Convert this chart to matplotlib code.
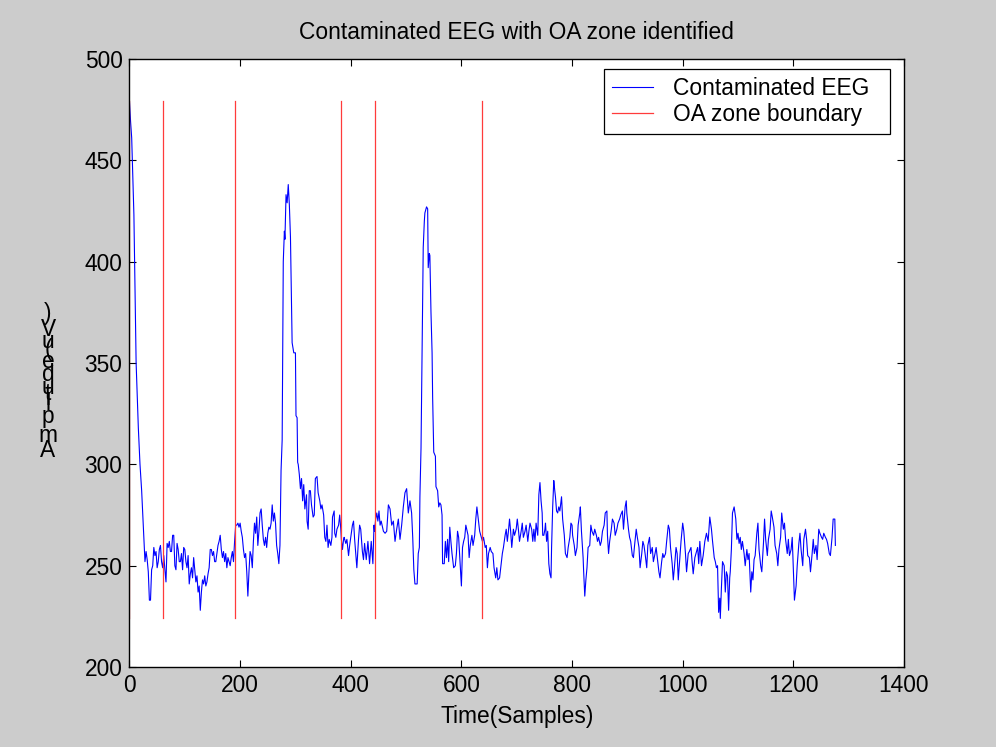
"""Contaminated EEG trace with the detected OA zone boundaries."""

import matplotlib
matplotlib.use("Agg")
import matplotlib.pyplot as plt
from matplotlib import font_manager, ft2font

# sample index and amplitude (uV)
samples = [
    0, 2, 4, 8, 12, 14, 16, 19, 22, 24, 26, 28, 30, 32, 34, 36, 38, 40, 42, 44,
    46, 48, 50, 52, 54, 56, 58, 60, 62, 64, 66, 68, 70, 72, 74, 76, 78, 80, 82, 84,
    86, 88, 90, 92, 94, 96, 98, 100, 102, 104, 106, 108, 110, 112, 114, 116, 118, 120, 122, 124,
    126, 128, 130, 132, 134, 136, 138, 140, 142, 144, 146, 148, 150, 152, 154, 156, 158, 160, 162, 164,
    166, 168, 170, 172, 174, 176, 178, 180, 182, 184, 186, 188, 190, 192, 194, 196, 198, 200, 202, 204,
    206, 208, 210, 212, 214, 216, 218, 220, 222, 224, 226, 228, 230, 232, 234, 236, 238, 240, 242, 244,
    246, 248, 250, 252, 254, 256, 258, 260, 262, 264, 266, 268, 270, 272, 274, 276, 278, 280, 281, 283,
    285, 287, 289, 291, 294, 297, 300, 301, 303, 304, 305, 307, 309, 311, 313, 315, 317, 320, 321, 323,
    325, 327, 329, 332, 334, 336, 339, 341, 344, 346, 348, 351, 353, 355, 357, 359, 361, 364, 366, 367,
    370, 371, 373, 375, 378, 380, 382, 383, 385, 387, 388, 391, 393, 396, 398, 400, 403, 405, 407, 410,
    411, 414, 416, 418, 421, 423, 425, 428, 431, 434, 437, 440, 442, 443, 445, 447, 449, 451, 453, 455,
    459, 462, 465, 468, 471, 474, 477, 480, 483, 486, 489, 492, 495, 498, 501, 504, 507, 510, 512, 514,
    516, 518, 520, 522, 524, 525, 527, 529, 530, 531, 533, 534, 537, 539, 540, 542, 543, 545, 547, 548,
    550, 553, 554, 557, 559, 561, 563, 565, 566, 569, 571, 573, 575, 577, 579, 581, 583, 586, 589, 591,
    593, 595, 598, 600, 602, 604, 606, 608, 612, 614, 616, 619, 621, 624, 626, 628, 631, 633, 635, 638,
    640, 643, 645, 647, 649, 652, 654, 657, 659, 662, 664, 666, 669, 671, 674, 676, 679, 681, 683, 685,
    687, 689, 691, 694, 696, 699, 701, 703, 705, 708, 710, 712, 715, 717, 720, 722, 724, 727, 729, 731,
    733, 735, 738, 740, 742, 744, 746, 747, 749, 751, 752, 754, 756, 758, 760, 762, 763, 765, 767, 768,
    770, 772, 774, 776, 778, 781, 783, 786, 788, 791, 793, 796, 798, 800, 801, 804, 806, 809, 811, 814,
    815, 817, 820, 821, 823, 825, 827, 829, 832, 834, 836, 839, 841, 844, 846, 848, 851, 853, 855, 858,
    860, 863, 864, 866, 868, 871, 873, 876, 878, 881, 883, 886, 888, 891, 893, 896, 898, 899, 902, 904,
    906, 909, 911, 913, 916, 918, 921, 923, 926, 928, 930, 932, 935, 937, 940, 942, 945, 947, 950, 952,
    954, 957, 959, 962, 964, 966, 969, 971, 974, 976, 978, 981, 983, 985, 988, 990, 992, 995, 997, 1000,
    1002, 1005, 1007, 1010, 1012, 1015, 1017, 1019, 1022, 1024, 1027, 1029, 1031, 1034, 1037, 1040, 1043, 1046, 1049, 1052,
    1054, 1057, 1059, 1061, 1063, 1065, 1067, 1068, 1070, 1072, 1075, 1077, 1079, 1081, 1083, 1085, 1086, 1088, 1090, 1093,
    1096, 1098, 1100, 1102, 1104, 1106, 1108, 1111, 1113, 1116, 1118, 1120, 1123, 1125, 1127, 1129, 1131, 1134, 1136, 1138,
    1141, 1143, 1146, 1148, 1150, 1153, 1155, 1158, 1160, 1162, 1165, 1167, 1170, 1172, 1174, 1177, 1179, 1182, 1184, 1186,
    1189, 1191, 1193, 1196, 1198, 1201, 1202, 1205, 1207, 1210, 1212, 1214, 1217, 1219, 1222, 1224, 1226, 1229, 1231, 1234,
    1236, 1238, 1241, 1243, 1246, 1248, 1251, 1253, 1255, 1258, 1260, 1262, 1265, 1267, 1270, 1272, 1275, 1276,
]
amplitude = [
    479, 469, 461, 423, 350, 334, 318, 300, 287, 275, 263, 252, 257, 253, 247, 233, 233, 248, 250, 259,
    255, 257, 249, 252, 258, 260, 252, 249, 255, 248, 242, 261, 259, 262, 257, 257, 265, 265, 250, 248,
    261, 258, 252, 252, 256, 248, 259, 258, 252, 249, 255, 241, 246, 249, 244, 254, 248, 242, 245, 237,
    240, 228, 237, 243, 241, 245, 240, 242, 246, 249, 258, 258, 255, 257, 252, 252, 256, 260, 262, 265,
    258, 254, 257, 252, 256, 249, 254, 252, 250, 254, 257, 252, 262, 270, 270, 271, 269, 271, 267, 264,
    258, 254, 256, 247, 235, 247, 257, 255, 249, 262, 271, 266, 274, 260, 267, 276, 278, 270, 263, 260,
    264, 259, 266, 269, 268, 271, 280, 272, 276, 271, 260, 256, 251, 260, 297, 312, 400, 415, 411, 433,
    429, 438, 428, 412, 360, 355, 355, 324, 323, 301, 300, 295, 288, 293, 282, 290, 278, 285, 272, 268,
    287, 287, 280, 274, 275, 293, 294, 286, 282, 278, 280, 275, 264, 262, 270, 259, 263, 260, 264, 274,
    277, 266, 264, 268, 270, 275, 268, 263, 258, 263, 264, 261, 263, 255, 260, 264, 270, 272, 263, 253,
    249, 263, 270, 268, 257, 253, 261, 253, 262, 251, 262, 251, 270, 267, 273, 276, 272, 277, 270, 272,
    267, 266, 267, 280, 278, 270, 272, 262, 268, 273, 263, 270, 279, 286, 288, 276, 282, 276, 264, 248,
    241, 241, 241, 256, 259, 284, 308, 358, 385, 407, 420, 424, 427, 426, 397, 404, 403, 375, 355, 333,
    306, 304, 289, 287, 279, 281, 280, 275, 251, 251, 262, 254, 263, 252, 269, 262, 256, 249, 250, 256,
    267, 264, 249, 240, 259, 262, 264, 270, 265, 254, 260, 265, 260, 265, 273, 279, 272, 267, 265, 262,
    264, 259, 260, 249, 256, 259, 257, 256, 249, 244, 249, 243, 244, 249, 256, 259, 265, 268, 262, 267,
    273, 267, 259, 268, 265, 268, 273, 268, 262, 267, 271, 264, 267, 270, 262, 267, 271, 268, 262, 268,
    262, 271, 265, 285, 291, 282, 276, 265, 265, 268, 271, 262, 267, 251, 246, 244, 259, 279, 292, 289,
    284, 277, 276, 279, 277, 284, 273, 265, 256, 254, 259, 264, 271, 270, 265, 260, 255, 259, 270, 276,
    279, 267, 254, 247, 235, 243, 249, 259, 260, 270, 267, 265, 268, 265, 262, 264, 260, 262, 267, 270,
    276, 277, 265, 256, 262, 268, 273, 271, 265, 268, 271, 273, 275, 277, 268, 279, 282, 276, 268, 264,
    262, 255, 254, 260, 268, 264, 259, 249, 256, 262, 260, 256, 249, 260, 264, 256, 259, 252, 256, 259,
    254, 247, 244, 252, 256, 254, 256, 262, 270, 268, 259, 251, 243, 249, 259, 256, 243, 254, 262, 271,
    267, 256, 247, 256, 257, 259, 252, 246, 254, 256, 259, 251, 262, 250, 255, 262, 266, 262, 274, 268,
    262, 254, 252, 249, 250, 227, 234, 224, 239, 252, 250, 237, 247, 245, 228, 244, 247, 258, 276, 279,
    273, 263, 266, 261, 264, 258, 262, 256, 250, 258, 253, 256, 237, 247, 243, 253, 255, 266, 271, 258,
    250, 247, 261, 273, 263, 255, 263, 268, 277, 274, 269, 260, 256, 250, 258, 264, 276, 268, 271, 263,
    256, 263, 255, 258, 264, 241, 233, 240, 250, 261, 266, 258, 250, 263, 268, 263, 255, 254, 247, 256,
    263, 256, 260, 253, 268, 266, 264, 263, 266, 264, 263, 261, 256, 255, 264, 273, 273, 260,
]

# detected OA zone boundaries (sample index)
boundaries = [0, 61, 190, 383, 444, 637]

x_ticks = [0, 200, 400, 600, 800, 1000, 1200, 1400]
y_ticks = [200, 250, 300, 350, 400, 450, 500]

title = "Contaminated EEG with OA zone identified"
x_label = "Time(Samples)"
y_label = "Amplitude(uV)"
legend_labels = ["Contaminated EEG", "OA zone boundary"]

FONT = "Liberation Sans"
SIZE = 16.4
DPI = 100
W, H = 996, 747


def stacked_label(fig, text, x_px, base_px):
    # unrotated glyphs laid along a vertical baseline, bottom to top
    face = ft2font.FT2Font(font_manager.findfont(FONT))
    face.set_size(SIZE, DPI)
    y = base_px
    for ch in text:
        fig.text(x_px / W, 1 - y / H, ch, fontsize=SIZE, family=FONT,
                 ha="center", va="baseline")
        y -= face.load_char(ord(ch)).linearHoriAdvance / 65536


fig = plt.figure(figsize=(W / DPI, H / DPI), dpi=DPI, facecolor="#cccccc")
ax = fig.add_axes([0.13, 0.107, 0.7776, 0.8142])
ax.set_facecolor("white")

ax.plot(samples, amplitude, color="#0000ff", lw=0.8, label=legend_labels[0])
lo, hi = min(amplitude), max(amplitude)
for i, b in enumerate(boundaries):
    ax.plot([b, b], [lo, hi], color="#ff3b3b", lw=0.9,
            label=legend_labels[1] if i == 0 else None)

ax.set_xlim(0, 1400)
ax.set_ylim(200, 500)
ax.set_xticks(x_ticks)
ax.set_yticks(y_ticks)
ax.tick_params(direction="in", length=5, width=0.8, top=True, right=True,
               labelsize=SIZE, pad=5)
for lab in ax.get_xticklabels() + ax.get_yticklabels():
    lab.set_family(FONT)
for s in ax.spines.values():
    s.set_linewidth(1.0)

ax.set_title(title, fontsize=SIZE, family=FONT, pad=14)
ax.set_xlabel(x_label, fontsize=SIZE, family=FONT, labelpad=6)
stacked_label(fig, y_label, 48, 457)

# legend box stretched to the reference frame, extra room on the right
leg = ax.legend(loc="upper left", bbox_to_anchor=(0.613, 0.0, 0.369, 0.984),
                mode="expand", prop={"family": FONT, "size": SIZE},
                fancybox=False, edgecolor="black", framealpha=1,
                handlelength=1.8, handletextpad=0.85, borderpad=0.35,
                labelspacing=0.15, borderaxespad=0.0)
leg.get_frame().set_linewidth(0.9)

fig.savefig("out.png", dpi=DPI, facecolor=fig.get_facecolor())
